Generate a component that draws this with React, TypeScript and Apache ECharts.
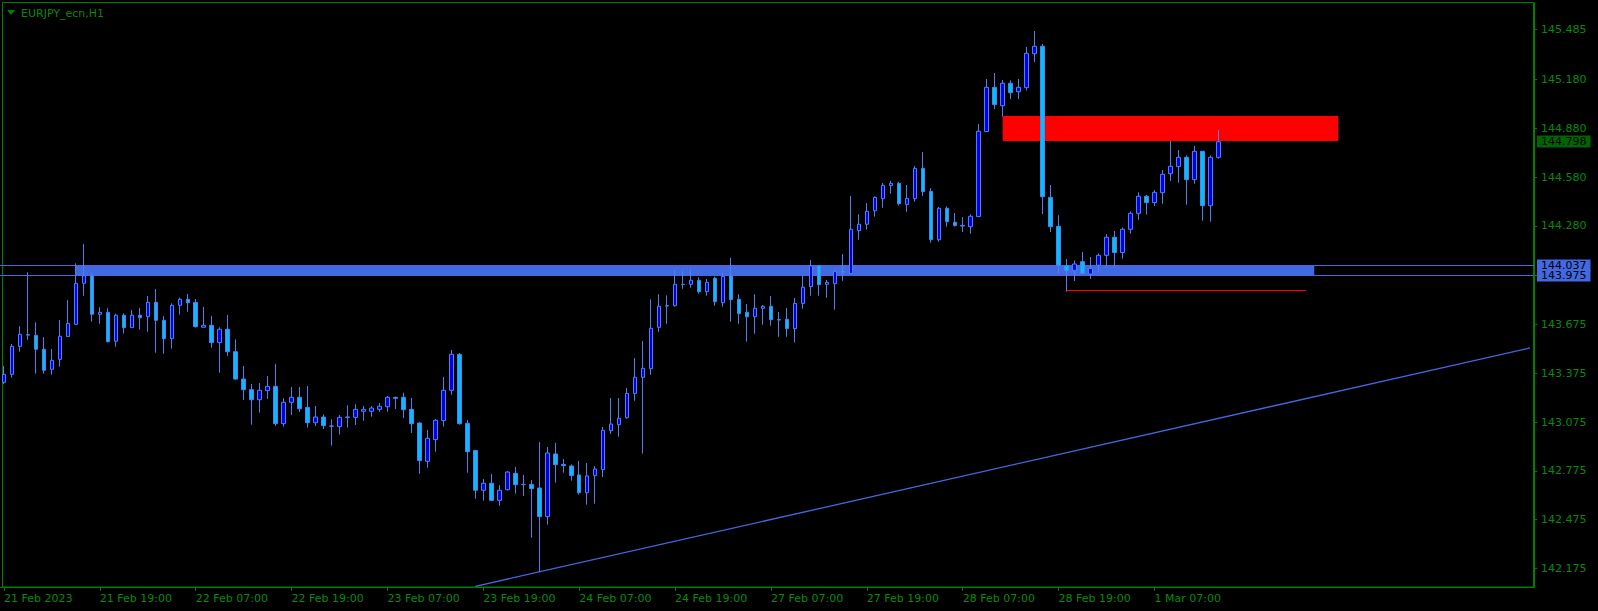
import React, { useEffect, useRef } from "react";
import * as echarts from "echarts";

// ---- Price data (EURJPY H1), bar 0 = 21 Feb 2023 07:00 ----
const opens = [
  143.319, 143.368, 143.540, 143.612, 143.608, 143.522, 143.399, 143.460, 143.600, 143.675,
  143.927, 143.974, 143.737, 143.749, 143.571, 143.731, 143.655, 143.731, 143.722, 143.810,
  143.700, 143.587, 143.792, 143.829, 143.810, 143.657, 143.669, 143.563, 143.645, 143.507,
  143.339, 143.274, 143.212, 143.268, 143.294, 143.065, 143.196, 143.227, 143.165, 143.071,
  143.106, 143.051, 143.047, 143.104, 143.104, 143.141, 143.141, 143.153, 143.169, 143.227,
  143.227, 143.153, 143.069, 142.834, 142.967, 143.084, 143.270, 143.491, 143.067, 142.901,
  142.656, 142.699, 142.594, 142.660, 142.760, 142.692, 142.692, 142.670, 142.494, 142.879,
  142.815, 142.805, 142.750, 142.641, 142.746, 142.783, 143.022, 143.059, 143.102, 143.251,
  143.350, 143.403, 143.657, 143.788, 143.790, 143.921, 143.921, 143.946, 143.876, 143.958,
  143.808, 143.972, 143.829, 143.749, 143.722, 143.774, 143.786, 143.704, 143.706, 143.649,
  143.804, 143.907, 144.034, 143.921, 143.925, 144.000, 143.988, 144.251, 144.290, 144.373,
  144.447, 144.527, 144.541, 144.412, 144.447, 144.633, 144.492, 144.195, 144.388, 144.302,
  144.283, 144.275, 144.337, 144.859, 145.131, 145.018, 145.156, 145.104, 145.129, 145.338,
  145.383, 144.455, 144.277, 144.034, 144.007, 144.060, 143.984, 144.038, 144.099, 144.210,
  144.116, 144.259, 144.357, 144.462, 144.423, 144.484, 144.601, 144.644, 144.701, 144.564,
  144.738, 144.404, 144.701,
];
const closes = [
  143.368, 143.540, 143.614, 143.609, 143.522, 143.393, 143.454, 143.602, 143.681, 143.927,
  143.974, 143.737, 143.749, 143.569, 143.731, 143.655, 143.731, 143.716, 143.810, 143.700,
  143.587, 143.792, 143.829, 143.808, 143.661, 143.669, 143.563, 143.645, 143.507, 143.339,
  143.274, 143.212, 143.270, 143.294, 143.065, 143.196, 143.227, 143.157, 143.071, 143.106,
  143.053, 143.049, 143.104, 143.106, 143.153, 143.153, 143.161, 143.172, 143.227, 143.221,
  143.151, 143.065, 142.838, 142.975, 143.086, 143.270, 143.491, 143.065, 142.893, 142.656,
  142.699, 142.594, 142.656, 142.768, 142.690, 142.691, 142.666, 142.494, 142.885, 142.813,
  142.807, 142.746, 142.641, 142.744, 142.787, 143.024, 143.063, 143.098, 143.251, 143.350,
  143.405, 143.651, 143.786, 143.790, 143.921, 143.920, 143.946, 143.876, 143.933, 143.814,
  143.970, 143.827, 143.741, 143.722, 143.774, 143.786, 143.704, 143.702, 143.649, 143.804,
  143.903, 144.034, 143.919, 143.933, 144.001, 143.996, 144.259, 144.290, 144.369, 144.455,
  144.529, 144.541, 144.416, 144.449, 144.633, 144.490, 144.195, 144.388, 144.306, 144.283,
  144.279, 144.339, 144.861, 145.131, 145.025, 145.156, 145.098, 145.131, 145.340, 145.383,
  144.459, 144.275, 144.038, 144.005, 144.046, 143.987, 144.019, 144.099, 144.210, 144.116,
  144.259, 144.357, 144.462, 144.423, 144.486, 144.597, 144.646, 144.701, 144.564, 144.738,
  144.404, 144.701, 144.797,
];
const lows = [
  143.307, 143.348, 143.507, 143.581, 143.372, 143.372, 143.366, 143.415, 143.600, 143.675,
  143.851, 143.692, 143.679, 143.563, 143.538, 143.618, 143.655, 143.643, 143.630, 143.501,
  143.495, 143.526, 143.735, 143.753, 143.655, 143.657, 143.532, 143.378, 143.481, 143.335,
  143.210, 143.059, 143.133, 143.217, 143.051, 143.047, 143.118, 143.137, 143.041, 143.051,
  143.032, 142.930, 142.998, 143.041, 143.057, 143.083, 143.108, 143.139, 143.139, 143.155,
  143.100, 143.008, 142.758, 142.795, 142.893, 143.047, 143.243, 143.059, 142.764, 142.604,
  142.592, 142.592, 142.561, 142.654, 142.635, 142.621, 142.365, 142.154, 142.445, 142.703,
  142.764, 142.715, 142.629, 142.568, 142.574, 142.737, 143.002, 142.985, 143.096, 143.206,
  142.881, 143.366, 143.630, 143.679, 143.784, 143.894, 143.900, 143.864, 143.851, 143.790,
  143.784, 143.692, 143.679, 143.569, 143.618, 143.673, 143.667, 143.599, 143.599, 143.563,
  143.771, 143.851, 143.851, 143.839, 143.765, 143.943, 143.984, 144.195, 144.257, 144.337,
  144.392, 144.478, 144.404, 144.367, 144.429, 144.464, 144.177, 144.183, 144.275, 144.275,
  144.242, 144.232, 144.337, 144.859, 144.998, 144.951, 145.059, 145.059, 145.111, 145.287,
  144.353, 144.242, 143.987, 143.876, 143.941, 143.987, 143.954, 143.997, 144.023, 144.023,
  144.079, 144.232, 144.318, 144.349, 144.402, 144.417, 144.556, 144.545, 144.410, 144.539,
  144.312, 144.306, 144.693,
];
const highs = [
  143.419, 143.554, 143.663, 143.995, 143.688, 143.597, 143.524, 143.702, 143.825, 144.050,
  144.169, 143.995, 143.780, 143.774, 143.739, 143.743, 143.763, 143.776, 143.849, 143.892,
  143.726, 143.804, 143.839, 143.862, 143.831, 143.782, 143.726, 143.657, 143.733, 143.583,
  143.419, 143.309, 143.315, 143.358, 143.432, 143.221, 143.290, 143.290, 143.296, 143.174,
  143.122, 143.092, 143.118, 143.178, 143.184, 143.174, 143.174, 143.192, 143.235, 143.231,
  143.255, 143.223, 143.073, 143.026, 143.094, 143.352, 143.518, 143.499, 143.088, 142.901,
  142.725, 142.756, 142.688, 142.774, 142.799, 142.750, 142.719, 142.952, 142.922, 142.948,
  142.848, 142.815, 142.836, 142.823, 142.805, 143.045, 143.223, 143.223, 143.284, 143.468,
  143.573, 143.829, 143.860, 143.853, 144.009, 144.003, 144.015, 143.964, 143.954, 143.968,
  143.991, 144.083, 143.860, 143.800, 143.860, 143.794, 143.849, 143.751, 143.776, 143.837,
  143.972, 144.070, 144.040, 143.948, 144.013, 144.107, 144.464, 144.351, 144.420, 144.461,
  144.543, 144.556, 144.550, 144.531, 144.648, 144.734, 144.511, 144.396, 144.400, 144.359,
  144.334, 144.351, 144.906, 145.182, 145.219, 145.176, 145.174, 145.182, 145.379, 145.477,
  145.397, 144.531, 144.345, 144.077, 144.068, 144.120, 144.089, 144.111, 144.230, 144.249,
  144.271, 144.369, 144.486, 144.470, 144.500, 144.623, 144.801, 144.746, 144.713, 144.771,
  144.738, 144.713, 144.869,
];

// ---- Axes ----
const totalSlots = 192; // bars + empty space to the right edge
const xTickEvery = 12;
const xTickLabels = [
  "21 Feb 2023", "21 Feb 19:00", "22 Feb 07:00", "22 Feb 19:00", "23 Feb 07:00",
  "23 Feb 19:00", "24 Feb 07:00", "24 Feb 19:00", "27 Feb 07:00", "27 Feb 19:00",
  "28 Feb 07:00", "28 Feb 19:00", "1 Mar 07:00",
];
const yTickValues = [
  142.175, 142.475, 142.775, 143.075, 143.375, 143.675, 143.975,
  144.28, 144.58, 144.88, 145.18, 145.485,
];
const yMin = 142.0618;
const yMax = 145.649;

// ---- Annotations ----
const zoneHigh = 144.037;
const zoneLow = 143.975;
const zoneStartBar = 9;
const zoneEndBar = 164;
const supplyHigh = 144.955;
const supplyLow = 144.801;
const supplyStartBar = 125;
const supplyEndBar = 167;
const redLinePrice = 143.882;
const redLineStartBar = 133;
const redLineEndBar = 163;
const trendPoints = [
  [59, 142.066],
  [191, 143.53],
];
const bidPrice = 144.798;

const GREEN = "#008000";
const TEXT_GREEN = "#0a8a0a";
const ROYAL = "#4169E1";
const FONT = "DejaVu Sans";

export default function App() {
  const ref = useRef<HTMLDivElement>(null);

  useEffect(() => {
    if (!ref.current) return;
    const chart = echarts.init(ref.current, undefined, { renderer: "svg" });
    const categories = Array.from({ length: totalSlots }, (_, i) => String(i));
    const candles = opens.map((o, i) => [o, closes[i], lows[i], highs[i]]);
    const tickShown = (i: number) =>
      i % xTickEvery === 0 && i / xTickEvery < xTickLabels.length;

    const boxLabel = (bg: string) => ({
      show: true,
      position: "end",
      formatter: (p: any) => Number(p.value).toFixed(3),
      backgroundColor: bg,
      color: "#000",
      fontFamily: FONT,
      fontSize: 11,
      lineHeight: 12,
      padding: [0, 4, 0, 4],
      distance: 3,
      opacity: 1,
    });

    chart.setOption({
      animation: false,
      backgroundColor: "#000",
      grid: { left: 0, top: 3, width: 1534, height: 584, containLabel: false },
      xAxis: {
        type: "category",
        data: categories,
        boundaryGap: true,
        axisLine: { show: true, lineStyle: { color: GREEN, width: 1 } },
        axisTick: {
          show: true,
          alignWithLabel: true,
          interval: (i: number) => tickShown(i),
          length: 4,
          lineStyle: { color: GREEN },
        },
        axisLabel: {
          interval: (i: number) => tickShown(i),
          formatter: (_v: string, i: number) => xTickLabels[Math.round(i / xTickEvery)] ?? "",
          align: "left",
          color: TEXT_GREEN,
          fontFamily: FONT,
          fontSize: 11,
          margin: 6,
        },
        splitLine: { show: false },
      },
      yAxis: {
        type: "value",
        position: "right",
        min: yMin,
        max: yMax,
        scale: true,
        axisLine: { show: true, lineStyle: { color: GREEN, width: 1 } },
        axisTick: {
          show: true,
          customValues: yTickValues,
          length: 3,
          lineStyle: { color: GREEN },
        },
        axisLabel: {
          customValues: yTickValues,
          formatter: (v: number) => v.toFixed(3),
          color: TEXT_GREEN,
          fontFamily: FONT,
          fontSize: 11,
          margin: 7,
        },
        splitLine: { show: false },
      },
      graphic: [
        {
          type: "rect",
          silent: true,
          z: 0,
          shape: { x: 2.5, y: 2.5, width: 1531, height: 584.5 },
          style: { fill: "none", stroke: GREEN, lineWidth: 1 },
        },
        {
          type: "polygon",
          silent: true,
          shape: { points: [[7, 10], [15, 10], [11, 15]] },
          style: { fill: GREEN },
        },
        {
          type: "text",
          silent: true,
          x: 21,
          y: 13,
          style: {
            text: "EURJPY_ecn,H1",
            fill: TEXT_GREEN,
            font: `11px "${FONT}"`,
            verticalAlign: "middle",
          },
        },
      ],
      series: [
        {
          type: "line",
          name: "trend",
          data: trendPoints,
          showSymbol: false,
          symbol: "none",
          silent: true,
          z: 3,
          lineStyle: { color: ROYAL, width: 1.3 },
          markArea: {
            silent: true,
            z: 1,
            data: [
              [
                { coord: [zoneStartBar, zoneHigh], itemStyle: { color: ROYAL, opacity: 1 } },
                { coord: [zoneEndBar, zoneLow] },
              ],
              [
                { coord: [supplyStartBar, supplyHigh], itemStyle: { color: "#FF0000", opacity: 1 } },
                { coord: [supplyEndBar, supplyLow] },
              ],
            ],
          },
          markLine: {
            silent: true,
            symbol: "none",
            precision: 3,
            z: 1,
            lineStyle: { color: ROYAL, width: 1, type: "solid" },
            label: boxLabel(ROYAL),
            data: [
              { yAxis: zoneHigh },
              { yAxis: zoneLow },
              [
                {
                  coord: [redLineStartBar, redLinePrice],
                  lineStyle: { color: "#FF0000", width: 1, type: "solid" },
                  label: { show: false },
                },
                { coord: [redLineEndBar, redLinePrice] },
              ],
            ],
          },
        },
        {
          type: "line",
          name: "bid",
          data: [],
          silent: true,
          z: 2,
          markLine: {
            silent: true,
            symbol: "none",
            precision: 3,
            lineStyle: { color: "rgba(0,0,0,0)", width: 1, type: "solid" },
            label: boxLabel("#006400"),
            data: [{ yAxis: bidPrice }],
          },
        },
        {
          type: "candlestick",
          name: "EURJPY",
          data: candles,
          barWidth: 4,
          z: 5,
          silent: true,
          itemStyle: {
            color: "#0000E8",
            color0: "#00BFFF",
            borderColor: "#5080F0",
            borderColor0: "#5080F0",
            borderWidth: 1,
          },
        },
      ],
    });

    return () => chart.dispose();
  }, []);

  return (
    <div
      ref={ref}
      style={{
        position: "absolute",
        left: 0,
        top: 0,
        width: 1598,
        height: 611,
        background: "#000",
      }}
    />
  );
}
